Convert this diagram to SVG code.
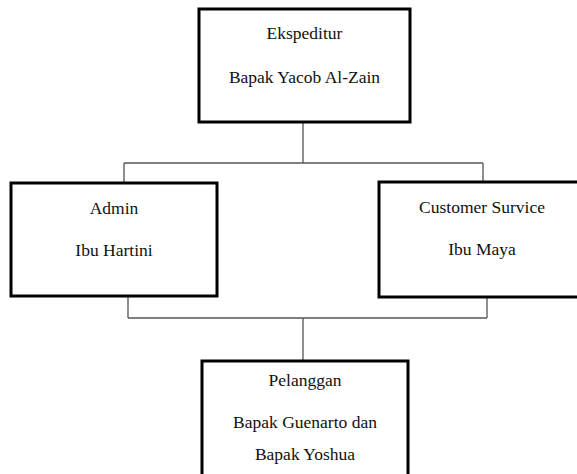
<svg xmlns="http://www.w3.org/2000/svg" width="577" height="474" viewBox="0 0 577 474">
<style>
.box{fill:#fff;stroke:#000;stroke-width:3}
.t{font-family:"Liberation Serif","Times New Roman",serif;font-size:17.5px;fill:#111;text-anchor:middle}
.c{fill:none;stroke:#555;stroke-width:1.3}
</style>
<rect width="577" height="474" fill="#fff"/>
<g id="connectors">
<path class="c" d="M303,122 V163 M124,163 H483 M124,163 V183 M483,163 V182"/>
<path class="c" d="M128,296 V318 M487,297 V318 M128,318 H487 M303,318 V361"/>
</g>
<g id="ekspeditur">
<rect class="box" x="199" y="9" width="211" height="113"/>
<text class="t" x="304.5" y="39">Ekspeditur</text>
<text class="t" x="304.5" y="83">Bapak Yacob Al-Zain</text>
</g>
<g id="admin">
<rect class="box" x="11" y="183" width="206" height="113"/>
<text class="t" x="114" y="214">Admin</text>
<text class="t" x="114" y="256">Ibu Hartini</text>
</g>
<g id="customer-service">
<rect class="box" x="379" y="182" width="210" height="115"/>
<text class="t" x="482" y="213">Customer Survice</text>
<text class="t" x="482" y="255">Ibu Maya</text>
</g>
<g id="pelanggan">
<rect class="box" x="202" y="361" width="206" height="120"/>
<text class="t" x="305" y="386">Pelanggan</text>
<text class="t" x="305" y="428">Bapak Guenarto dan</text>
<text class="t" x="305" y="460">Bapak Yoshua</text>
</g>
</svg>
